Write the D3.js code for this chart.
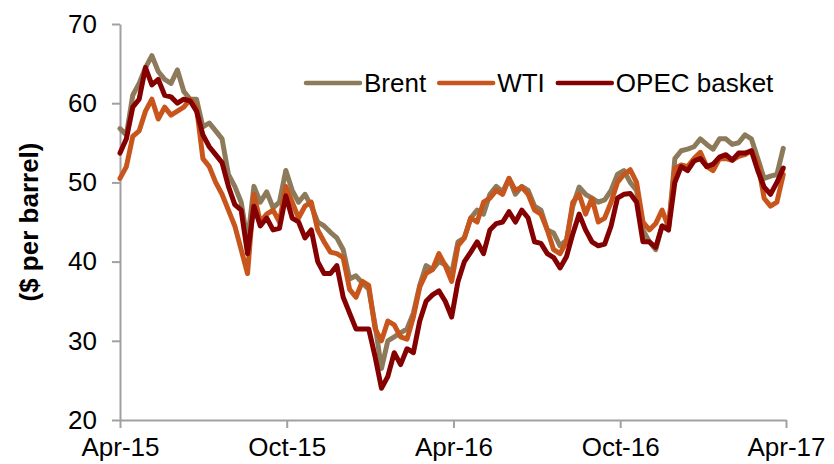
<!DOCTYPE html>
<html>
<head>
<meta charset="utf-8">
<script src="https://cdn.jsdelivr.net/npm/d3@7"></script>
<style>
  body { margin: 0; background: #fff; }
  text { font-family: "Liberation Sans", Arial, sans-serif; fill: #000; }
</style>
</head>
<body>
<div id="chart"></div>
<script>
// weekly prices ($/bbl), first point 1 Apr 2015
const startDate = new Date(2015, 3, 1);

const brent = [56.8, 56, 61, 62.5, 64.5, 66, 64, 63, 62.5, 64.2,
  61.5, 60.5, 60.5, 57, 57.5, 56.5, 55.5, 51, 49.5, 47.5,
  42.5, 49.5, 47.5, 48.8, 46.8, 47.5, 51.5, 49, 47.5, 48.5,
  47, 45, 44.5, 43.7, 43, 41.5, 37.8, 38.2, 37.3, 36.5,
  32, 26.5, 30, 30.5, 31, 31.5, 33.5, 37, 39.5, 39,
  40, 39.6, 38.5, 42.5, 43, 45.5, 46.5, 46, 48.5, 49.5,
  48.8, 50.5, 48.5, 49.5, 49, 47, 46.5, 44, 43.6, 42,
  42.7, 47, 49.4, 48.5, 48, 47.5, 47.8, 49, 51, 51.5,
  50, 49, 44, 42.5, 41.5, 44.5, 44, 53, 54, 54.2,
  54.5, 55.5, 54.8, 54.2, 55.5, 55.5, 54.8, 55, 56, 55.5,
  53, 50.5, 50.8, 51, 54.3];

const wti = [50.5, 52, 55.8, 56.5, 59, 60.5, 58, 59.5, 58.5, 59,
  59.5, 60.5, 59.5, 53, 52, 50, 48.5, 46.5, 44.5, 41.5,
  38.5, 48.5, 45, 46, 46.5, 45, 49.5, 47.5, 45.5, 47,
  47.5, 44, 42.5, 41.2, 41, 40.5, 36.5, 35.5, 37.5, 37,
  31.5, 30, 32.5, 32, 30.5, 30.2, 33, 36.8, 38.5, 39,
  41, 39.5, 37.5, 42, 43, 45.5, 45, 47.5, 48, 49,
  48.5, 50.5, 49, 49.4, 48.5, 46.5, 46, 44, 41.5, 41,
  42.5, 47.5, 48.5, 46, 48, 45, 45.5, 47.5, 50, 51,
  51.6, 50, 45, 44, 44.8, 46.5, 44.4, 51.8, 52.2, 52,
  53, 53.8, 52, 51.5, 53, 53, 52.8, 53.3, 53.5, 54,
  52.5, 48, 47, 47.5, 51];

const opec = [53.7, 55.5, 59.5, 60.5, 64.5, 62.3, 63, 61, 60.8, 60,
  60.5, 60.3, 59, 56, 54.5, 53.5, 52.5, 49.5, 47.2, 46.5,
  41, 47, 44.5, 45.5, 44, 44.2, 48.3, 45.5, 45, 43,
  44, 40, 38.5, 38.5, 39.5, 35.5, 33.5, 31.5, 31.5, 31.5,
  28, 24, 25.5, 28.5, 27, 29, 28.5, 32.5, 35, 35.8,
  36.3, 35, 33, 37.5, 40, 41.2, 42.5, 41, 44, 44.8,
  45, 46.3, 45, 46.5, 45.5, 42.5, 42.3, 41, 40.5, 39.2,
  40.6, 43.5, 46, 44, 42.5, 42, 42.2, 44.5, 48, 48.5,
  48.6, 47.5, 42.5, 42.5, 41.8, 44.5, 44, 50, 52, 51.5,
  52.7, 53, 52, 52.3, 53.2, 53.5, 52.8, 53.7, 53.7, 54,
  51.5, 49.4, 48.5, 50, 51.8];

const seriesNames = ["Brent", "WTI", "OPEC basket"];
const seriesColors = ["#8C7A5B", "#C8561C", "#850000"];
const yTicks = [20, 30, 40, 50, 60, 70];
const xTickDates = [new Date(2015, 3, 1), new Date(2015, 9, 1), new Date(2016, 3, 1),
  new Date(2016, 9, 1), new Date(2017, 3, 1)];

let w = 834,
    h = 464;

let margin = { top: 24, right: 48, bottom: 44, left: 120 };

let svg = d3.select("#chart")
            .append("svg")
            .attr("width", w)
            .attr("height", h);

let x = d3.scaleTime()
          .domain([new Date(2015, 3, 1), new Date(2017, 3, 1)])
          .range([margin.left, w - margin.right]);

let y = d3.scaleLinear()
          .domain([20, 70])
          .range([h - margin.bottom, margin.top]);

// axes
svg.append("g")
   .attr("transform", `translate(0, ${h - margin.bottom})`)
   .call(d3.axisBottom(x)
           .tickValues(xTickDates)
           .tickFormat(d3.timeFormat("%b-%y"))
           .tickSize(8)
           .tickSizeOuter(0)
           .tickPadding(10));

svg.append("g")
   .attr("transform", `translate(${margin.left}, 0)`)
   .call(d3.axisLeft(y)
           .tickValues(yTicks)
           .tickSize(8)
           .tickSizeOuter(0)
           .tickPadding(15));

svg.selectAll(".domain, .tick line")
   .attr("stroke", "#A0A0A0")
   .attr("stroke-width", 2);

svg.selectAll(".tick text")
   .style("font-size", "26px")
   .style("font-family", "'Liberation Sans', Arial, sans-serif")
   .attr("fill", "#000");

// y axis title
svg.append("text")
   .attr("transform", `translate(38, ${(margin.top + h - margin.bottom) / 2}) rotate(-90)`)
   .attr("text-anchor", "middle")
   .style("font-size", "26px")
   .style("font-weight", "bold")
   .text("($ per barrel)");

// lines
let line = d3.line()
             .x((d, i) => x(d3.timeDay.offset(startDate, 7 * i)))
             .y(d => y(d));

[brent, wti, opec].forEach((values, k) => {
  svg.append("path")
     .datum(values)
     .attr("fill", "none")
     .attr("stroke", seriesColors[k])
     .attr("stroke-width", 5)
     .attr("stroke-linejoin", "round")
     .attr("stroke-linecap", "round")
     .attr("d", line);
});

// legend
let legendX = 306;
seriesNames.forEach((name, k) => {
  svg.append("line")
     .attr("x1", legendX)
     .attr("x2", legendX + 54)
     .attr("y1", 83)
     .attr("y2", 83)
     .attr("stroke", seriesColors[k])
     .attr("stroke-width", 4.5)
     .attr("stroke-linecap", "round");

  let t = svg.append("text")
             .attr("x", legendX + 58)
             .attr("y", 92)
             .style("font-size", "26px")
             .text(name);

  legendX += 58 + t.node().getComputedTextLength() + 13;
});
</script>
</body>
</html>
